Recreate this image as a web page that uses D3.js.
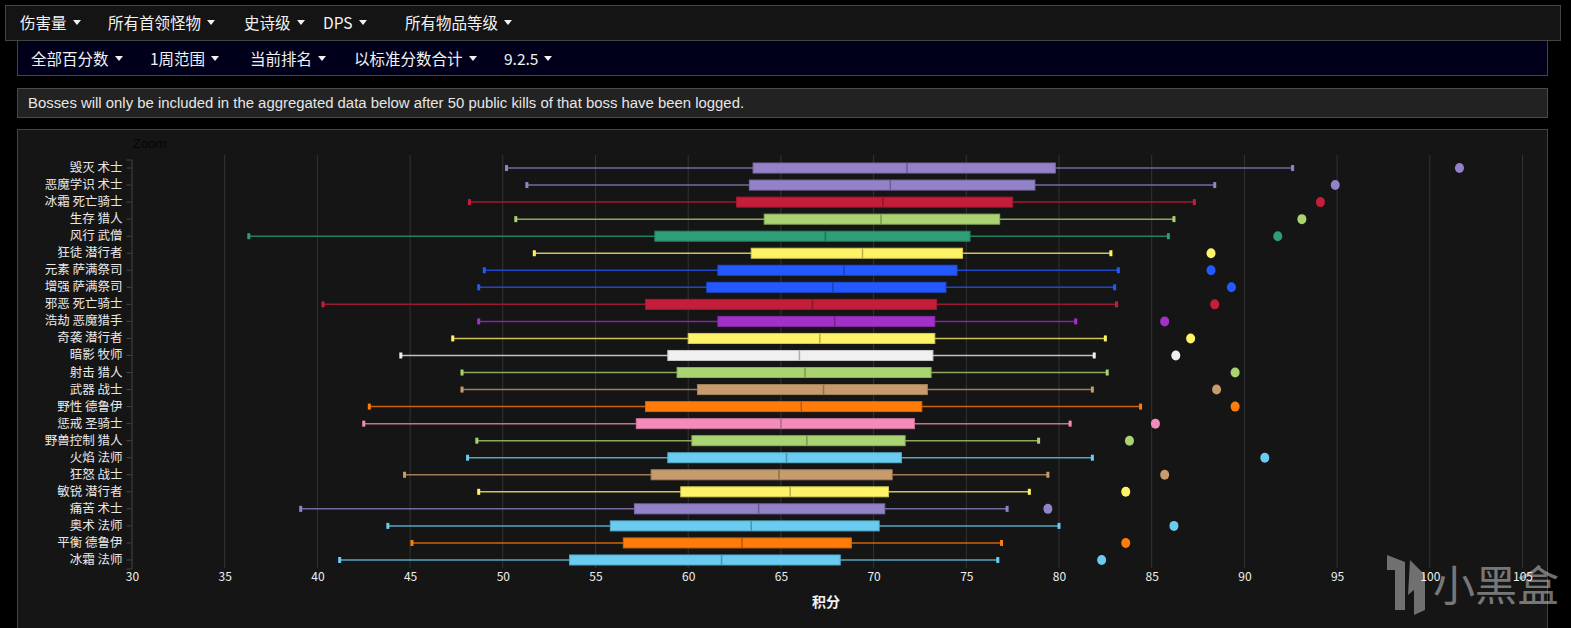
<!DOCTYPE html>
<html><head><meta charset="utf-8">
<script src="https://cdn.jsdelivr.net/npm/d3@7/dist/d3.min.js"></script>
<style>
html,body{margin:0;padding:0;background:#000;width:1571px;height:628px;overflow:hidden;font-family:"Noto Sans CJK SC","Noto Sans",sans-serif;}
.bar{position:absolute;box-sizing:border-box;}
#nav1{left:5px;top:5px;width:1556px;height:36px;background:#141414;border:1px solid #444;}
#nav2{left:17px;top:41px;width:1531px;height:35px;background:#00001a;border:1px solid #444;border-top:none;}
#info{left:17px;top:88px;width:1531px;height:30px;background:#222;border:1px solid #4a4a4a;color:#e6e6e6;font-family:"Liberation Sans",Arial,sans-serif;font-size:14.9px;line-height:28px;padding-left:10px;}
#panel{left:17px;top:129px;width:1531px;height:520px;background:#151515;border:1px solid #444;}
.item{position:absolute;color:#f2f2f2;font-size:15.5px;white-space:nowrap;}
.caret{display:inline-block;width:0;height:0;border-left:4px solid transparent;border-right:4px solid transparent;border-top:5px solid #f2f2f2;margin-left:6px;vertical-align:middle;position:relative;top:-2px;}
svg{position:absolute;left:0;top:0;}
</style></head>
<body>
<div id="nav1" class="bar"></div>
<div id="nav2" class="bar"></div>
<div id="info" class="bar">Bosses will only be included in the aggregated data below after 50 public kills of that boss have been logged.</div>
<div id="panel" class="bar"></div>
<svg id="chart" width="1571" height="628"></svg>
<script>
// ---- data ----
const menu1 = ["伤害量","所有首领怪物","史诗级","DPS","所有物品等级"];
const menu2 = ["全部百分数","1周范围","当前排名","以标准分数合计","9.2.5"];
const specs = ["毁灭 术士","恶魔学识 术士","冰霜 死亡骑士","生存 猎人","风行 武僧","狂徒 潜行者","元素 萨满祭司","增强 萨满祭司","邪恶 死亡骑士","浩劫 恶魔猎手","奇袭 潜行者","暗影 牧师","射击 猎人","武器 战士","野性 德鲁伊","惩戒 圣骑士","野兽控制 猎人","火焰 法师","狂怒 战士","敏锐 潜行者","痛苦 术士","奥术 法师","平衡 德鲁伊","冰霜 法师"];
const specClass = ["warlock","warlock","dk","hunter","monk","rogue","shaman","shaman","dk","dh","rogue","priest","hunter","warrior","druid","paladin","hunter","mage","warrior","rogue","warlock","mage","druid","mage"];
const lowValues    = [50.2,51.3,48.2,50.7,36.3,51.7,49.0,48.7,40.3,48.7,47.3,44.5,47.8,47.8,42.8,42.5,48.6,48.1,44.7,48.7,39.1,43.8,45.1,41.2];
const q1Values     = [63.5,63.3,62.6,64.1,58.2,63.4,61.6,61.0,57.7,61.6,60.0,58.9,59.4,60.5,57.7,57.2,60.2,58.9,58.0,59.6,57.1,55.8,56.5,53.6];
const medianValues = [71.8,70.9,70.5,70.4,67.4,69.4,68.4,67.8,66.7,67.9,67.1,66.0,66.3,67.3,66.1,65.0,66.4,65.3,64.9,65.5,63.8,63.4,62.9,61.8];
const q3Values     = [79.8,78.7,77.5,76.8,75.2,74.8,74.5,73.9,73.4,73.3,73.3,73.2,73.1,72.9,72.6,72.2,71.7,71.5,71.0,70.8,70.6,70.3,68.8,68.2];
const highValues   = [92.6,88.4,87.3,86.2,85.9,82.8,83.2,83.0,83.1,80.9,82.5,81.9,82.6,81.8,84.4,80.6,78.9,81.8,79.4,78.4,77.2,80.0,76.9,76.7];
const topValues    = [101.6,94.9,94.1,93.1,91.8,88.2,88.2,89.3,88.4,85.7,87.1,86.3,89.5,88.5,89.5,85.2,83.8,91.1,85.7,83.6,79.4,86.2,83.6,82.3];
const xTicks = [30,35,40,45,50,55,60,65,70,75,80,85,90,95,100,105];
const classColor = {warlock:"#9482c9",dk:"#c41e3a",hunter:"#aad372",monk:"#2e9e78",rogue:"#fff468",shaman:"#2459ff",dh:"#a330c9",priest:"#f0f0f0",warrior:"#c69b6d",druid:"#ff7c0a",paladin:"#f48cba",mage:"#69ccf0"};

// ---- menus ----
const m1x=[20,108,244,323,405], m2x=[31,150,250,354,504];
d3.select("body").selectAll(".m1").data(menu1).enter().append("div").attr("class","item m1")
  .style("left",(d,i)=>m1x[i]+"px").style("top","11px").html(d=>d+'<span class="caret"></span>');
d3.select("body").selectAll(".m2").data(menu2).enter().append("div").attr("class","item m2")
  .style("left",(d,i)=>m2x[i]+"px").style("top","47px").html(d=>d+'<span class="caret"></span>');

// ---- chart ----
const svg = d3.select("#chart");
const x = d3.scaleLinear().domain([30,105]).range([132,1522.5]);
const y = d3.scaleBand().domain(specs).range([159.5,568.5]).paddingInner(0).paddingOuter(0);
const bh = 10;
const data = specs.map((s,i)=>({s,c:classColor[specClass[i]],lo:lowValues[i],q1:q1Values[i],md:medianValues[i],q3:q3Values[i],hi:highValues[i],top:topValues[i]}));

svg.append("text").attr("x",133).attr("y",148).attr("fill","#050505").attr("font-size",13)
  .attr("font-family","Liberation Sans, Arial").text("Zoom");

// grid
svg.append("g").selectAll("line").data(xTicks.slice(1)).enter().append("line")
  .attr("x1",d=>x(d)).attr("x2",d=>x(d)).attr("y1",155).attr("y2",568)
  .attr("stroke","#333").attr("stroke-width",1);

// watermark (behind axis labels)
const wm = svg.append("g").attr("opacity",0.55);
wm.append("path").attr("d","M1387,555 L1405,562 L1405,610 L1395,610 L1395,570 L1387,570 Z M1410,560 L1425,575 L1425,610 L1414,615 L1414,590 L1408,595 Z")
  .attr("fill","#bbb");
wm.append("text").attr("x",1433).attr("y",601).attr("fill","#c8c8c8").attr("font-size",42)
  .attr("font-family","Noto Sans CJK SC, sans-serif").text("小黑盒");

// x axis
const xa = svg.append("g").attr("transform","translate(0,568)")
  .call(d3.axisBottom(x).tickValues(xTicks).tickSize(0).tickPadding(4));
xa.select(".domain").remove();
xa.selectAll("text").attr("fill","#f0f0f0").attr("font-size",12).attr("font-family","Noto Sans CJK SC, sans-serif");

// y axis
const ya = svg.append("g").attr("transform","translate(131.5,0)")
  .call(d3.axisLeft(y).tickSize(5).tickPadding(4));
ya.select(".domain").attr("stroke","#444");
ya.selectAll(".tick line").attr("stroke","#444");
ya.selectAll("text").attr("fill","#e8e8e8").attr("font-size",12.5).attr("font-family","Noto Sans CJK SC, sans-serif");

svg.append("text").attr("x",826).attr("y",607).attr("text-anchor","middle").attr("fill","#f2f2f2")
  .attr("font-size",14).attr("font-weight","bold").attr("font-family","Noto Sans CJK SC, sans-serif").text("积分");

const g = svg.append("g").selectAll("g").data(data).enter().append("g")
  .attr("transform",d=>`translate(0,${y(d.s)+y.bandwidth()/2})`);
g.append("line").attr("x1",d=>x(d.lo)).attr("x2",d=>x(d.hi)).attr("y1",0).attr("y2",0)
  .attr("stroke",d=>d3.color(d.c).darker(0.6)).attr("stroke-width",1.5);
g.append("rect").attr("x",d=>x(d.lo)-1.5).attr("y",-3).attr("width",3).attr("height",6).attr("fill",d=>d.c);
g.append("rect").attr("x",d=>x(d.hi)-1.5).attr("y",-3).attr("width",3).attr("height",6).attr("fill",d=>d.c);
g.append("rect").attr("x",d=>x(d.q1)).attr("y",-bh/2).attr("width",d=>x(d.q3)-x(d.q1)).attr("height",bh)
  .attr("fill",d=>d.c).attr("stroke",d=>d3.color(d.c).darker(0.5)).attr("stroke-width",1);
g.append("line").attr("x1",d=>x(d.md)).attr("x2",d=>x(d.md)).attr("y1",-bh/2).attr("y2",bh/2)
  .attr("stroke",d=>d3.color(d.c).darker(0.9)).attr("stroke-width",1.5);
g.append("ellipse").attr("cx",d=>x(d.top)).attr("cy",0).attr("rx",4.5).attr("ry",5).attr("fill",d=>d.c);
</script>
</body></html>
